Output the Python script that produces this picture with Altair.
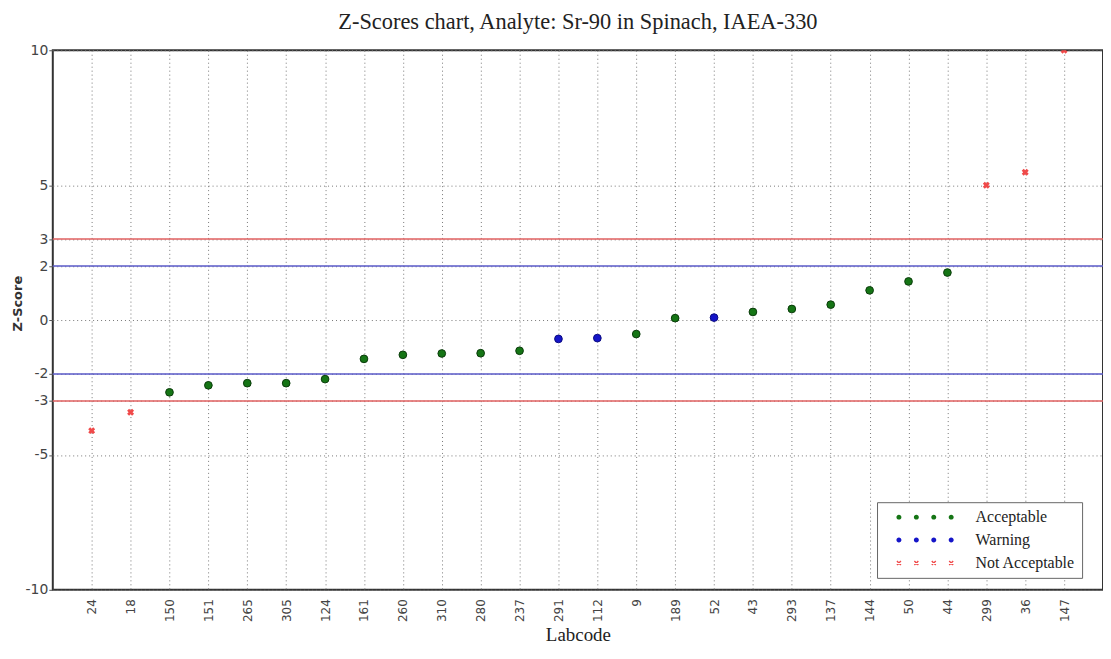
import altair as alt
import pandas as pd

# ---------------- data ----------------
labcodes = ["24", "18", "150", "151", "265", "305", "124", "161", "260", "310",
            "280", "237", "291", "112", "9", "189", "52", "43", "293", "137",
            "144", "50", "44", "299", "36", "147"]
zscores = [-4.10, -3.42, -2.68, -2.42, -2.34, -2.34, -2.19, -1.44, -1.29, -1.24,
           -1.23, -1.14, -0.70, -0.67, -0.52, 0.07, 0.09, 0.30, 0.41, 0.57,
           1.10, 1.43, 1.76, 5.00, 5.48, 10.00]
status = ["Not Acceptable", "Not Acceptable",
          "Acceptable", "Acceptable", "Acceptable", "Acceptable", "Acceptable",
          "Acceptable", "Acceptable", "Acceptable", "Acceptable", "Acceptable",
          "Warning", "Warning", "Acceptable", "Acceptable", "Warning",
          "Acceptable", "Acceptable", "Acceptable", "Acceptable", "Acceptable", "Acceptable",
          "Not Acceptable", "Not Acceptable", "Not Acceptable"]
status_order = ["Acceptable", "Warning", "Not Acceptable"]
action_limits = [-3, 3]
warning_limits = [-2, 2]
y_ticks = [-10, -5, -3, -2, 0, 2, 3, 5, 10]

df = pd.DataFrame({"Labcode": labcodes, "Z": zscores, "Status": status})

W, H = 1055, 542
GREEN, BLUE, RED = "#157515", "#1515c8", "#f04a4a"


# legend symbols: four repeated markers (custom SVG paths, unit = sqrt(size)/2 px)
def _dot(c, r):
    return f"M{c - r},0A{r},{r} 0 1,0 {c + r},0A{r},{r} 0 1,0 {c - r},0Z"


def _x(c, a, w):
    return (f"M{c - a},{-a + w}L{c - a + w},{-a}L{c + a},{a - w}L{c + a - w},{a}Z"
            f"M{c - a},{a - w}L{c - a + w},{a}L{c + a},{-a + w}L{c + a - w},{-a}Z")


dot_centers = (1.4, 4.9, 8.4, 11.9)
dots_path = "".join(_dot(c, 0.5) for c in dot_centers)
xs_path = "".join(_x(c, 0.5, 0.2) for c in dot_centers)

x_enc = alt.X(
    "Labcode:N", sort=None,
    scale=alt.Scale(type="point", padding=1),
    axis=alt.Axis(
        title="Labcode", labelAngle=270, labelFont="DejaVu Sans", labelFontSize=12,
        labelColor="#444", labelPadding=9, ticks=False, domain=False,
        grid=True, gridDash=[1, 3], gridColor="#777", gridWidth=1,
        titleFont="Liberation Serif", titleFontSize=19, titleFontWeight="normal",
        titleColor="#222", titleY=51, titleBaseline="alphabetic",
    ),
)
y_enc = alt.Y(
    "Z:Q",
    scale=alt.Scale(domain=[-10, 10], nice=False, zero=False),
    axis=alt.Axis(
        values=y_ticks, labelExpr="'' + datum.value", title="Z-Score",
        titleFont="DejaVu Sans", titleFontWeight="bold", titleFontSize=13,
        titleColor="#333", titleAngle=270, titleX=-35, titleY=254,
        titleAlign="center", titleBaseline="middle",
        labelFont="DejaVu Sans", labelFontSize=14, labelColor="#444",
        tickSize=4, tickColor="#555", labelPadding=1, domain=False,
        grid=True, gridDash=[1, 3], gridColor="#777", gridWidth=1,
    ),
)

base = alt.Chart(df)

red_rules = alt.Chart(pd.DataFrame({"Z": action_limits})).mark_rule(
    color="#e06060", strokeWidth=1.5).encode(y=y_enc)
blue_rules = alt.Chart(pd.DataFrame({"Z": warning_limits})).mark_rule(
    color="#5a5ac8", strokeWidth=1.5).encode(y=y_enc)

circles = base.transform_filter("datum.Status != 'Not Acceptable'").mark_point(
    filled=True, size=60, strokeWidth=1, clip=True, opacity=1
).encode(
    x=x_enc, y=y_enc,
    fill=alt.Fill("Status:N", scale=alt.Scale(domain=["Acceptable", "Warning"],
                                             range=[GREEN, BLUE]), legend=None),
    stroke=alt.Stroke("Status:N", scale=alt.Scale(domain=["Acceptable", "Warning"],
                                                 range=["#0a3a0a", "#0a0a80"]), legend=None),
)

crosses = base.transform_filter("datum.Status == 'Not Acceptable'").mark_point(
    shape="cross", angle=45, filled=True, size=50, color=RED, clip=True, opacity=1
).encode(x=x_enc, y=y_enc)

legend_props = dict(
    title=None, orient="none", legendX=828, legendY=454,
    fillColor="white", strokeColor="#666", padding=7, rowPadding=7,
    symbolSize=100, symbolOpacity=1, symbolStrokeWidth=0, labelOffset=76,
    labelFont="Liberation Serif", labelFontSize=16, labelColor="#222",
    labelExpr="datum.label + '\u00a0\u00a0\u00a0\u00a0'",
)
legend_layer = base.mark_point(filled=True, opacity=0).encode(
    x=x_enc, y=y_enc,
    color=alt.Color("Status:N", scale=alt.Scale(domain=status_order, range=[GREEN, BLUE, RED]),
                    legend=alt.Legend(**legend_props)),
    shape=alt.Shape("Status:N", scale=alt.Scale(domain=status_order,
                                               range=[dots_path, dots_path, xs_path]),
                    legend=alt.Legend(**legend_props)),
)

chart = alt.layer(red_rules, blue_rules, legend_layer, circles, crosses).properties(
    width=W, height=H,
    title=alt.TitleParams("Z-Scores chart, Analyte: Sr-90 in Spinach, IAEA-330",
                          font="Liberation Serif", fontSize=22.5, fontWeight="normal",
                          color="#222", anchor="middle", offset=10),
    padding={"left": 45, "top": 41, "right": 0, "bottom": 55},
    autosize=alt.AutoSizeParams(type="none"),
    background="white",
).configure_view(stroke="#333", strokeWidth=2)

chart.save("out.html", embed_options={"renderer": "svg", "actions": False})
